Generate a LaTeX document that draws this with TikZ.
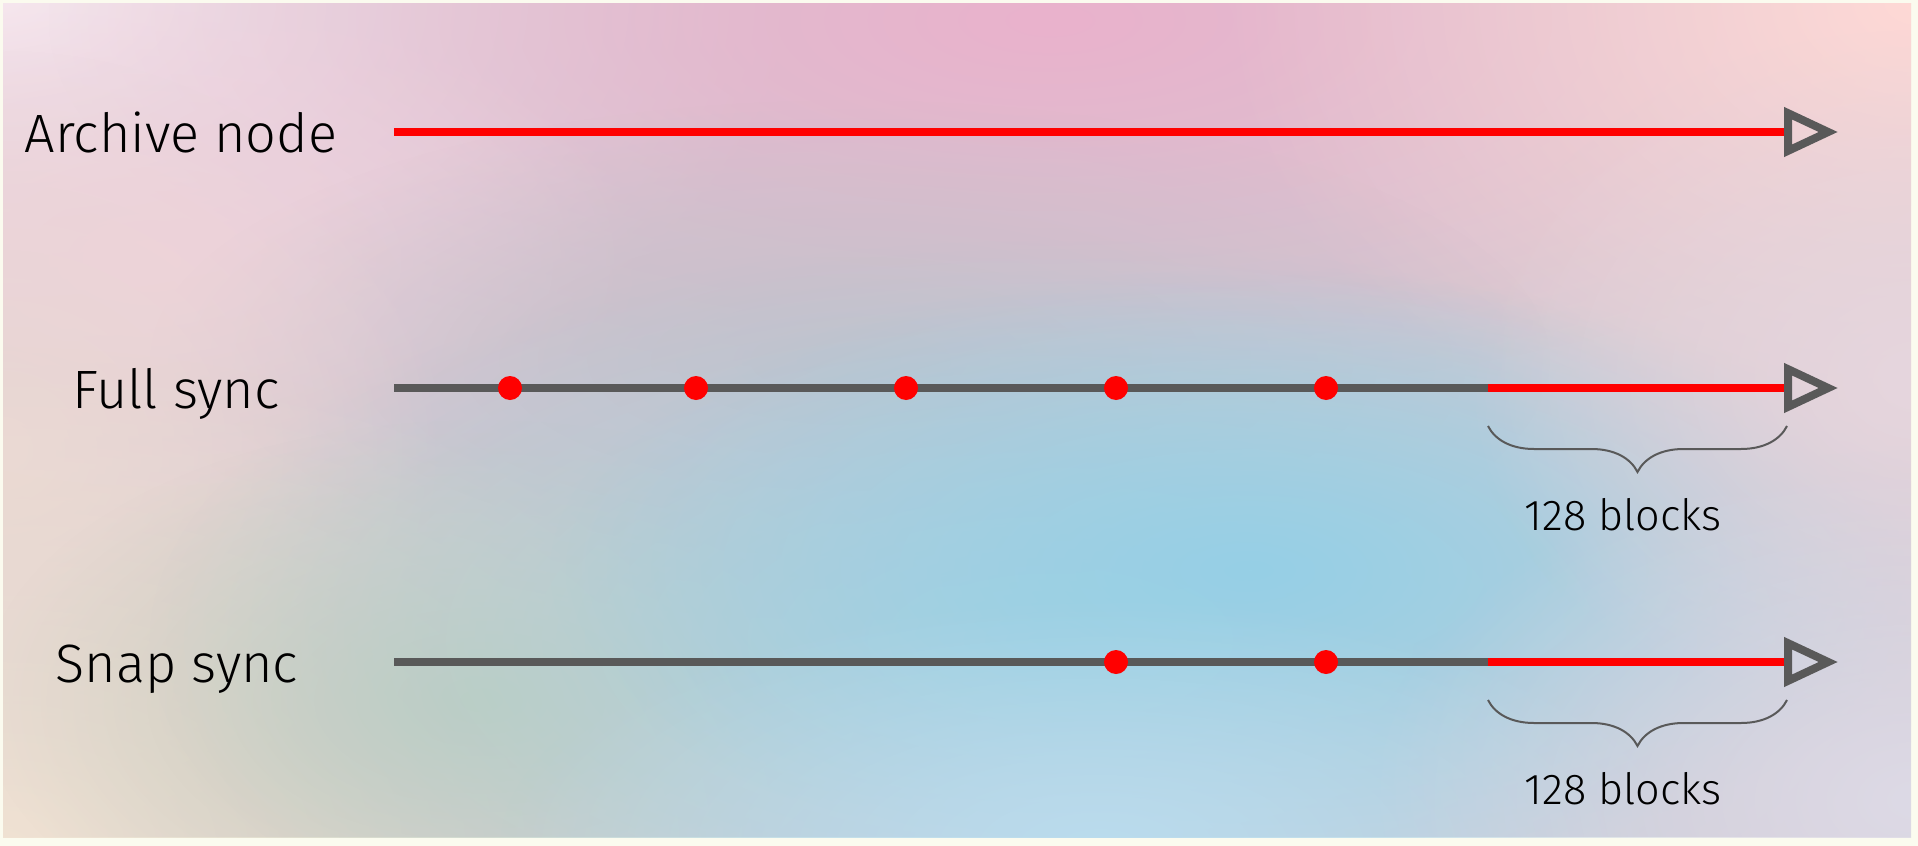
\documentclass[tikz,border=0pt]{standalone}
\usepackage{fontspec}
\setmainfont{Fira Sans Light}
\usepackage{tikz}
\usetikzlibrary{arrows.meta}
\usetikzlibrary{positioning}
\usetikzlibrary{decorations.pathreplacing}
\usetikzlibrary{fadings}

\definecolor{syncRed}{HTML}{FF0000}
\definecolor{lineGray}{HTML}{595959}
\definecolor{paper}{HTML}{FBFBEF}
\definecolor{baseTone}{HTML}{D2C8D2}
\definecolor{tintCorner}{HTML}{F7E8EF}
\definecolor{tintBlush}{HTML}{F0D0DC}
\definecolor{tintSand}{HTML}{F0E2D2}
\definecolor{tintBeige}{HTML}{EAD8D4}
\definecolor{tintPeach}{HTML}{FFD9D6}
\definecolor{tintSky}{HTML}{96D0E6}
\definecolor{tintHaze}{HTML}{A8D2E0}
\definecolor{tintRose}{HTML}{EAB2CC}
\definecolor{tintSlate}{HTML}{C6C0CA}
\definecolor{tintIce}{HTML}{BADCEE}
\definecolor{tintSage}{HTML}{C4CCBA}
\definecolor{tintMist}{HTML}{DDDAE6}
\definecolor{tintDusk}{HTML}{E6D6DE}
\tikzfading[name=blob, inner color=transparent!0, outer color=transparent!100]

\begin{document}
\begin{tikzpicture}[x=0.5pt, y=-0.5pt,
  glow/.style={fill=#1, path fading=blob},
  track/.style={line width=4pt, draw=lineGray},
  recent/.style={line width=4pt, draw=syncRed,
    -{Triangle[open, length=27pt, width=24pt, line width=4pt, color=lineGray]}},
  block/.style={circle, fill=syncRed, inner sep=0pt, minimum size=12pt},
  rowname/.style={font=\fontsize{27}{32}\selectfont, anchor=base},
  blockspan/.style={decorate, decoration={brace, mirror, amplitude=23pt},
    draw=lineGray, line width=1pt},
  spanname/.style={font=\fontsize{21.6}{26}\selectfont, anchor=base}]

  \useasboundingbox (0,0) rectangle (1918,846);
  \fill[paper] (0,0) rectangle (1918,846);

  \begin{scope}
    \clip (3,3) rectangle (1911,837);
    \fill[baseTone] (3,3) rectangle (1911,837);
    \fill[glow=tintCorner] (0,0) ellipse [x radius=400pt, y radius=225pt];
    \fill[glow=tintRose] (1050,20) ellipse [x radius=500pt, y radius=190pt];
    \fill[glow=tintPeach] (1918,0) ellipse [x radius=350pt, y radius=250pt];
    \fill[glow=tintBlush] (150,260) ellipse [x radius=250pt, y radius=140pt];
    \fill[glow=tintSlate] (850,360) ellipse [x radius=350pt, y radius=130pt];
    \fill[glow=tintBeige] (0,450) ellipse [x radius=225pt, y radius=200pt];
    \fill[glow=tintSand] (0,846) ellipse [x radius=400pt, y radius=250pt];
    \fill[glow=tintSage] (480,700) ellipse [x radius=250pt, y radius=140pt];
    \fill[glow=tintHaze] (1050,640) ellipse [x radius=450pt, y radius=200pt];
    \fill[glow=tintSky] (1250,570) ellipse [x radius=350pt, y radius=150pt];
    \fill[glow=tintIce] (1100,846) ellipse [x radius=300pt, y radius=125pt];
    \fill[glow=tintDusk] (1918,380) ellipse [x radius=225pt, y radius=175pt];
    \fill[glow=tintMist] (1918,800) ellipse [x radius=275pt, y radius=175pt];
  \end{scope}

  \node[rowname] (archive) at (181,152) {Archive node};
  \node[rowname] (full) at (176,408) {Full sync};
  \node[rowname] (snap) at (177,682) {Snap sync};

  \coordinate (archiveStart) at (394,132);
  \coordinate (archiveEnd) at (1838,132);
  \coordinate (fullStart) at (394,388);
  \coordinate (fullSplit) at (1488,388);
  \coordinate (fullEnd) at (1838,388);
  \coordinate (snapStart) at (394,662);
  \coordinate (snapSplit) at (1488,662);
  \coordinate (snapEnd) at (1838,662);

  \draw[recent] (archiveStart) -- (archiveEnd);
  \draw[track] (fullStart) -- (fullSplit);
  \draw[recent] (fullSplit) -- (fullEnd);
  \draw[track] (snapStart) -- (snapSplit);
  \draw[recent] (snapSplit) -- (snapEnd);

  \node[block] (full1) at (510,388) {};
  \node[block] (full2) at (696,388) {};
  \node[block] (full3) at (906,388) {};
  \node[block] (full4) at (1116,388) {};
  \node[block] (full5) at (1326,388) {};
  \node[block] (snap1) at (1116,662) {};
  \node[block] (snap2) at (1326,662) {};

  \coordinate (fullSpanA) at (1488,426);
  \coordinate (fullSpanB) at (1787,426);
  \coordinate (snapSpanA) at (1488,700);
  \coordinate (snapSpanB) at (1787,700);
  \draw[blockspan] (fullSpanA) -- (fullSpanB);
  \draw[blockspan] (snapSpanA) -- (snapSpanB);

  \node[spanname] (fullCount) at (1623,530) {128 blocks};
  \node[spanname] (snapCount) at (1623,804) {128 blocks};
\end{tikzpicture}
\end{document}
